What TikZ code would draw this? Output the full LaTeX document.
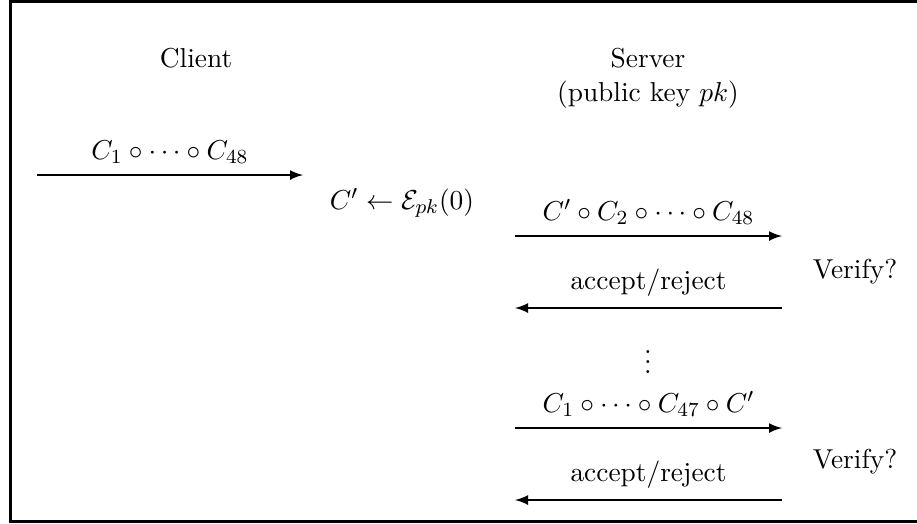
\documentclass[tikz,border=0pt]{standalone}
\usetikzlibrary{arrows}
\begin{document}
\begin{tikzpicture}[x=0.4pt,y=-0.4pt,
  every node/.style={font=\fontsize{10.95}{13}\selectfont},
  msg/.style={line width=0.8pt,-latex}]
\useasboundingbox (0,0) rectangle (917,523);
\begin{scope}
\clip (0,0) rectangle (917,523);
\draw[line width=1.2pt] (10.5,1.5) rectangle (930,521.5);
\end{scope}
\node (client) at (196,58) {Client};
\node (server) at (648,58) {Server};
\node (pk) at (648,95) {(public key $pk$)};
% message 1
\coordinate (a1s) at (37,175);
\coordinate (a1e) at (303,175);
\draw[msg] (a1s) -- (a1e) node[midway,above=1pt] (l1) {$C_1\circ\cdots\circ C_{48}$};
\node (enc) at (402,203) {$C'\leftarrow\mathcal{E}_{pk}(0)$};
% message 2
\coordinate (a2s) at (515,236);
\coordinate (a2e) at (782,236);
\draw[msg] (a2s) -- (a2e) node[midway,above=1pt] (l2) {$C'\circ C_2\circ\cdots\circ C_{48}$};
\coordinate (a3s) at (782,308);
\coordinate (a3e) at (515,308);
\draw[msg] (a3s) -- (a3e) node[midway,above=1pt] (l3) {accept/reject};
\node (v1) at (855,272) {Verify?};
\node (dots) at (648,355) {$\vdots$};
% message 4
\coordinate (a4s) at (515,428);
\coordinate (a4e) at (782,428);
\draw[msg] (a4s) -- (a4e) node[midway,above=1pt] (l4) {$C_1\circ\cdots\circ C_{47}\circ C'$};
\coordinate (a5s) at (782,500);
\coordinate (a5e) at (515,500);
\draw[msg] (a5s) -- (a5e) node[midway,above=1pt] (l5) {accept/reject};
\node (v2) at (855,462) {Verify?};
\end{tikzpicture}
\end{document}
